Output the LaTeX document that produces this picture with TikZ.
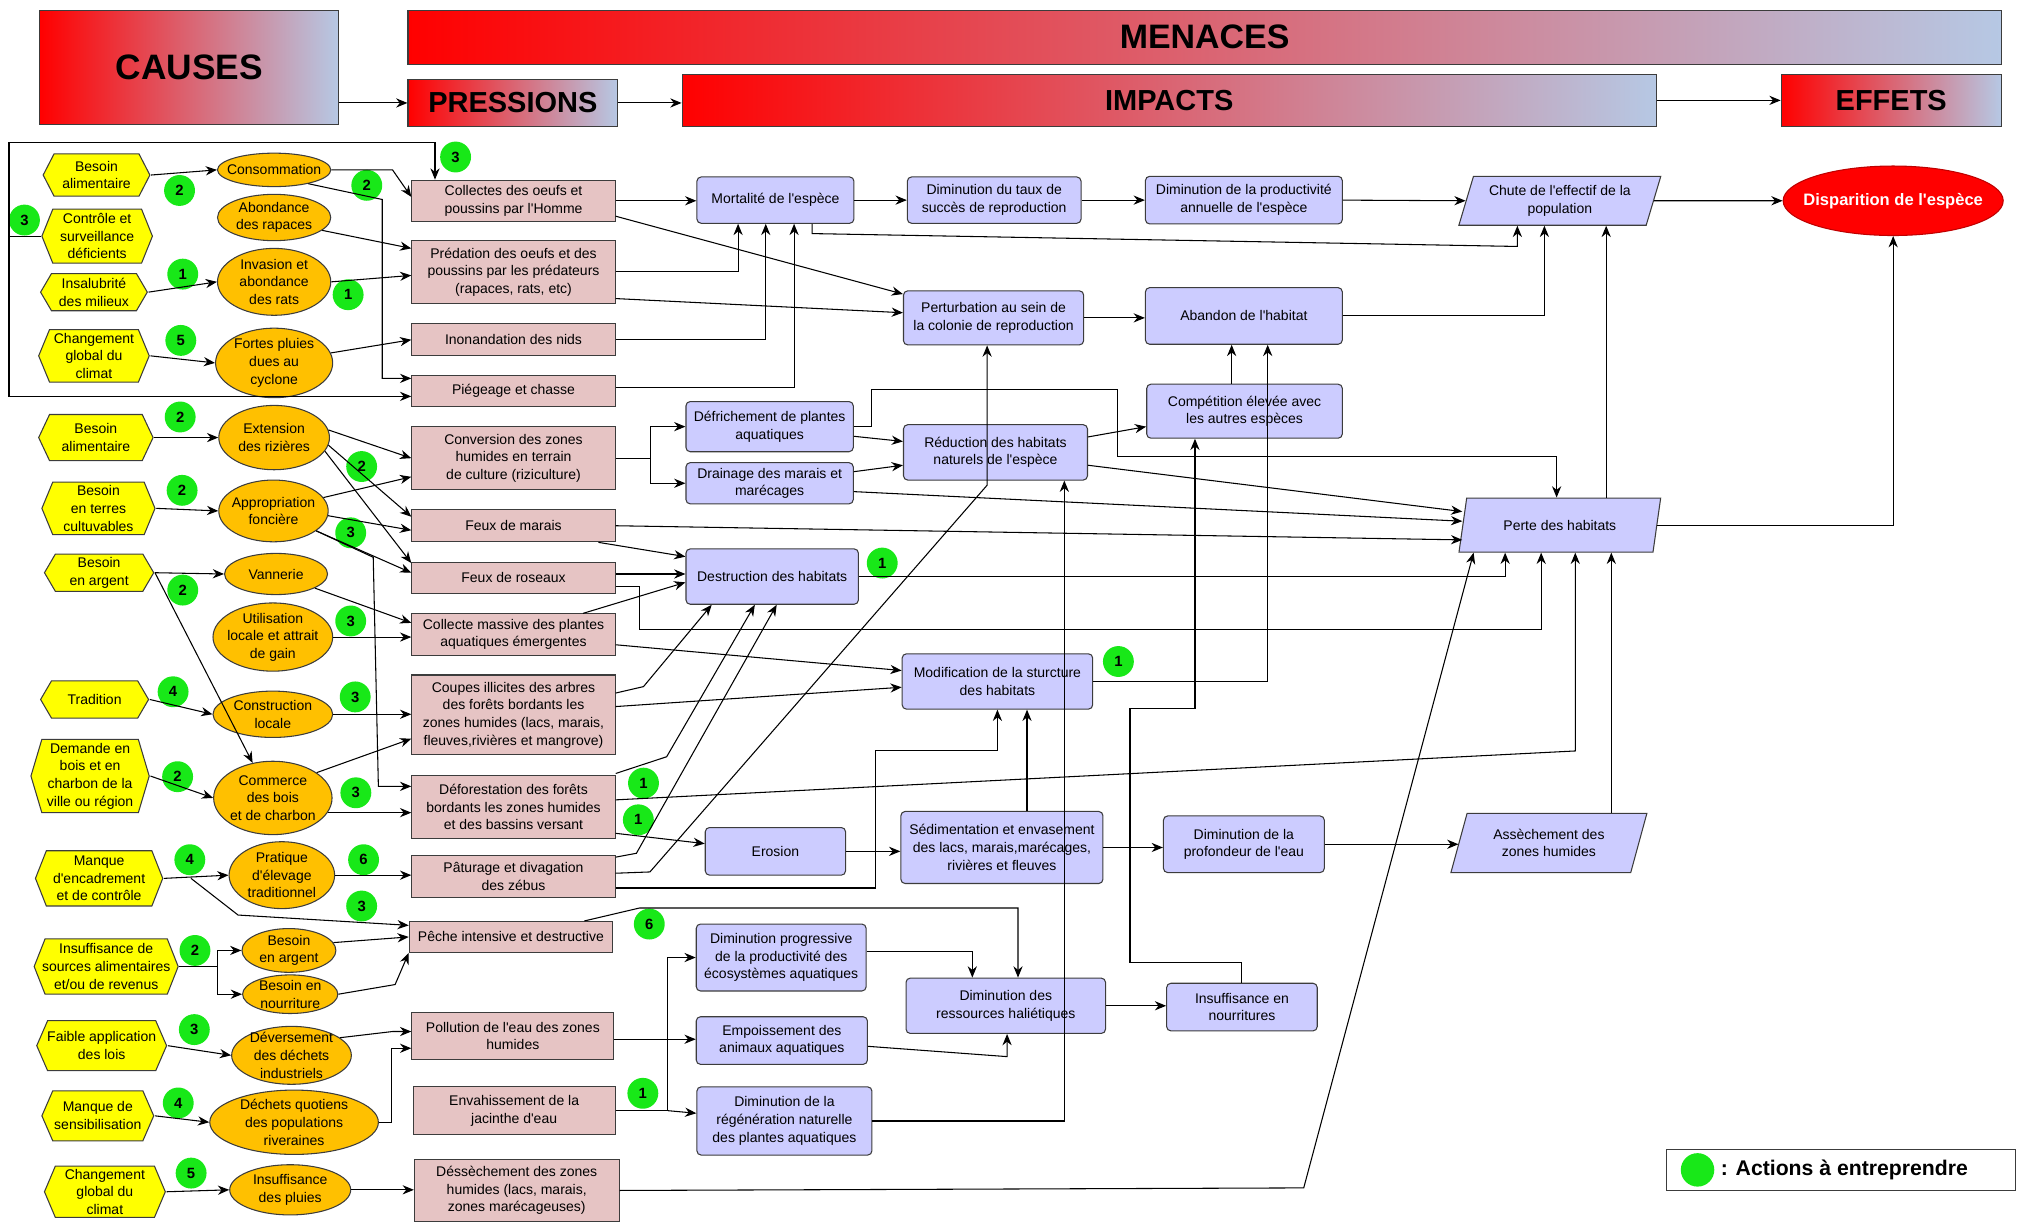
\documentclass[tikz,border=0pt]{standalone}
\usepackage{fontspec}
\setmainfont{Liberation Sans}[Ligatures=TeXOff]
\usetikzlibrary{shapes.geometric, arrows.meta}

\newlength\pxu
\setlength\pxu{0.032cm}
\definecolor{hexyellow}{RGB}{255,255,0}
\definecolor{ellorange}{RGB}{255,192,0}
\definecolor{prespink}{RGB}{230,196,196}
\definecolor{impblue}{RGB}{204,204,255}
\definecolor{actgreen}{RGB}{24,232,24}
\definecolor{headblue}{RGB}{182,200,228}
\definecolor{edge}{RGB}{60,60,60}

\begin{document}
\begin{tikzpicture}
        [x=0.032cm, y=-0.032cm,
         every node/.style={font=\fontsize{9.9}{12.5}\selectfont, align=center},
         every path/.style={line width=0.75pt},
         >={Stealth[length=8pt, width=6.5pt]},
         head/.style={draw=edge, left color=red, right color=headblue, font=\bfseries\fontsize{20.5}{24}\selectfont},
         cause/.style={rectangle, inner sep=0pt, path picture={
            \filldraw[draw=edge, fill=hexyellow] ([xshift=0.5pt]path picture bounding box.west)
              -- ([xshift=9\pxu, yshift=-0.5pt]path picture bounding box.north west)
              -- ([xshift=-9\pxu, yshift=-0.5pt]path picture bounding box.north east)
              -- ([xshift=-0.5pt]path picture bounding box.east)
              -- ([xshift=-9\pxu, yshift=0.5pt]path picture bounding box.south east)
              -- ([xshift=9\pxu, yshift=0.5pt]path picture bounding box.south west) -- cycle;}},
         sub/.style={ellipse, draw=edge, fill=ellorange, inner sep=0pt},
         press/.style={rectangle, draw=edge, fill=prespink, inner sep=1pt},
         imp/.style={rectangle, rounded corners=3pt, draw=edge, fill=impblue, inner sep=1pt},
         para/.style={trapezium, trapezium left angle=70, trapezium right angle=110, trapezium stretches=true, draw=edge, fill=impblue, inner sep=1pt},
         act/.style={circle, fill=actgreen, inner sep=0pt, minimum size=24\pxu, font=\bfseries\fontsize{10.5}{12}\selectfont}]

        \useasboundingbox (0,0) rectangle (1568,950);

        % headers
        \node[head, minimum width=232\pxu, minimum height=89\pxu, font=\bfseries\fontsize{25}{28}\selectfont] (hc) at (147, 52.5) {CAUSES};
        \node[head, minimum width=1238\pxu, minimum height=42\pxu, font=\bfseries\fontsize{24}{28}\selectfont] (hm) at (936, 29) {MENACES};
        \node[head, minimum width=163\pxu, minimum height=36\pxu] (hp) at (398.5, 80) {PRESSIONS};
        \node[head, minimum width=757\pxu, minimum height=40\pxu] (hi) at (908.5, 78) {IMPACTS};
        \node[head, minimum width=171\pxu, minimum height=40\pxu] (he) at (1469.5, 78) {EFFETS};

        % causes
        \node[cause, minimum width=84\pxu, minimum height=34\pxu] (c1) at (75, 136) {Besoin\\alimentaire};
        \node[cause, minimum width=87\pxu, minimum height=43\pxu] (c2) at (75.5, 183.5) {Contrôle et\\surveillance\\déficients};
        \node[cause, minimum width=84\pxu, minimum height=30\pxu] (c3) at (73, 227) {Insalubrité\\des milieux};
        \node[cause, minimum width=87\pxu, minimum height=42\pxu] (c4) at (73, 276.5) {Changement\\global du\\climat};
        \node[cause, minimum width=90\pxu, minimum height=37\pxu] (c5) at (74.5, 340) {Besoin\\alimentaire};
        \node[cause, minimum width=89\pxu, minimum height=42\pxu] (c6) at (76.5, 395) {Besoin\\en terres\\cultuvables};
        \node[cause, minimum width=86\pxu, minimum height=30\pxu] (c7) at (77, 445) {Besoin\\en argent};
        \node[cause, minimum width=85\pxu, minimum height=30\pxu] (c8) at (73.5, 543.5) {Tradition};
        \node[cause, minimum width=93\pxu, minimum height=58\pxu] (c9) at (70, 603) {Demande en\\bois et en\\charbon de la\\ville ou région};
        \node[cause, minimum width=100\pxu, minimum height=44\pxu] (c10) at (77, 682.5) {Manque\\d'encadrement\\et de contrôle};
        \node[cause, minimum width=113\pxu, minimum height=44\pxu] (c11) at (82.5, 751) {Insuffisance de\\sources alimentaires\\et/ou de revenus};
        \node[cause, minimum width=102\pxu, minimum height=40\pxu] (c12) at (79, 812.5) {Faible application\\des lois};
        \node[cause, minimum width=88\pxu, minimum height=40\pxu] (c13) at (76, 867) {Manque de\\sensibilisation};
        \node[cause, minimum width=95\pxu, minimum height=41\pxu] (c14) at (81.5, 926) {Changement\\global du\\climat};

        % sous-causes
        \node[sub, minimum width=88\pxu, minimum height=26\pxu, label=center:{Consommation}] (s1) at (213, 132) {};
        \node[sub, minimum width=88\pxu, minimum height=36\pxu, label=center:{Abondance\\des rapaces}] (s2) at (213, 169) {};
        \node[sub, minimum width=88\pxu, minimum height=52\pxu, label=center:{Invasion et\\abondance\\des rats}] (s3) at (213, 219) {};
        \node[sub, minimum width=91\pxu, minimum height=54\pxu, label=center:{Fortes pluies\\dues au\\cyclone}] (s4) at (213, 282) {};
        \node[sub, minimum width=86\pxu, minimum height=50\pxu, label=center:{Extension\\des rizières}] (s5) at (213, 340) {};
        \node[sub, minimum width=85\pxu, minimum height=48\pxu, label=center:{Appropriation\\foncière}] (s6) at (212.5, 397) {};
        \node[sub, minimum width=80\pxu, minimum height=32\pxu, label=center:{Vannerie}] (s7) at (214.5, 446) {};
        \node[sub, minimum width=93\pxu, minimum height=53\pxu, label=center:{Utilisation\\locale et attrait\\de gain}] (s8) at (212, 495) {};
        \node[sub, minimum width=93\pxu, minimum height=36\pxu, label=center:{Construction\\locale}] (s9) at (212, 555) {};
        \node[sub, minimum width=92\pxu, minimum height=57\pxu, label=center:{Commerce\\des bois\\et de charbon}] (s10) at (212, 620) {};
        \node[sub, minimum width=82\pxu, minimum height=52\pxu, label=center:{Pratique\\d'élevage\\traditionnel}] (s11) at (219, 680) {};
        \node[sub, minimum width=73\pxu, minimum height=34\pxu, label=center:{Besoin\\en argent}] (s12) at (224.5, 738.5) {};
        \node[sub, minimum width=74\pxu, minimum height=30\pxu, label=center:{Besoin en\\nourriture}] (s13) at (225.5, 772.5) {};
        \node[sub, minimum width=93\pxu, minimum height=45\pxu, label=center:{Déversement\\des déchets\\industriels}] (s14) at (226.5, 820) {};
        \node[sub, minimum width=131\pxu, minimum height=50\pxu, label=center:{Déchets quotiens\\des populations\\riveraines}] (s15) at (228.5, 872) {};
        \node[sub, minimum width=94\pxu, minimum height=39\pxu, label=center:{Insuffisance\\des pluies}] (s16) at (225.5, 924.5) {};

        % pressions
        \node[press, minimum width=158\pxu, minimum height=32\pxu] (p1) at (399, 156) {Collectes des oeufs et\\poussins par l'Homme};
        \node[press, minimum width=158\pxu, minimum height=49\pxu] (p2) at (399, 211.5) {Prédation des oeufs et des\\poussins par les prédateurs\\(rapaces, rats, etc)};
        \node[press, minimum width=158\pxu, minimum height=25\pxu] (p3) at (399, 263.5) {Inonandation des nids};
        \node[press, minimum width=158\pxu, minimum height=24\pxu] (p4) at (399, 304) {Piégeage et chasse};
        \node[press, minimum width=158\pxu, minimum height=49\pxu] (p5) at (399, 356) {Conversion des zones\\humides en terrain\\de culture (riziculture)};
        \node[press, minimum width=158\pxu, minimum height=25\pxu] (p6) at (399, 408.5) {Feux de marais};
        \node[press, minimum width=158\pxu, minimum height=24\pxu] (p7) at (399, 449) {Feux de roseaux};
        \node[press, minimum width=158\pxu, minimum height=32\pxu] (p8) at (399, 493) {Collecte massive des plantes\\aquatiques émergentes};
        \node[press, minimum width=158\pxu, minimum height=62\pxu] (p9) at (399, 555.5) {Coupes illicites des arbres\\des forêts bordants les\\zones humides (lacs, marais,\\fleuves,rivières et mangrove)};
        \node[press, minimum width=158\pxu, minimum height=49\pxu] (p10) at (399, 627) {Déforestation des forêts\\bordants les zones humides\\et des bassins versant};
        \node[press, minimum width=158\pxu, minimum height=33\pxu] (p11) at (399, 681) {Pâturage et divagation\\des zébus};
        \node[press, minimum width=158\pxu, minimum height=24\pxu] (p12) at (397, 728) {Pêche intensive et destructive};
        \node[press, minimum width=157\pxu, minimum height=37\pxu] (p13) at (398.5, 805) {Pollution de l'eau des zones\\humides};
        \node[press, minimum width=157\pxu, minimum height=37\pxu] (p14) at (399.5, 863) {Envahissement de la\\jacinthe d'eau};
        \node[press, minimum width=159\pxu, minimum height=48\pxu] (p15) at (401.5, 925) {Déssèchement des zones\\humides (lacs, marais,\\zones marécageuses)};

        % impacts
        \node[imp, minimum width=122\pxu, minimum height=36\pxu] (i1) at (602.5, 155.5) {Mortalité de l'espèce};
        \node[imp, minimum width=135\pxu, minimum height=36\pxu] (i2) at (772.5, 155.5) {Diminution du taux de\\succès de reproduction};
        \node[imp, minimum width=153\pxu, minimum height=37\pxu] (i3) at (966.5, 155.5) {Diminution de la productivité\\annuelle de l'espèce};
        \node[para, minimum width=157\pxu, minimum height=38\pxu] (i4) at (1212, 156) {Chute de l'effectif de la\\population};
        \node[ellipse, fill=red, draw=red!75!black, minimum width=171\pxu, minimum height=54\pxu, inner sep=0pt,
              label={[text=white, font=\bfseries\fontsize{11.7}{13}\selectfont]center:Disparition de l'espèce}] (e1) at (1471, 156) {};
        \node[imp, minimum width=140\pxu, minimum height=42\pxu] (i5) at (772, 247) {Perturbation au sein de\\la colonie de reproduction};
        \node[imp, minimum width=153\pxu, minimum height=44\pxu] (i6) at (966.5, 245.5) {Abandon de l'habitat};
        \node[imp, minimum width=152\pxu, minimum height=42\pxu] (i7) at (967, 319.5) {Compétition élevée avec\\les autres espèces};
        \node[imp, minimum width=130\pxu, minimum height=39\pxu] (i8) at (598, 331.5) {Défrichement de plantes\\aquatiques};
        \node[imp, minimum width=130\pxu, minimum height=32\pxu] (i9) at (598, 375.5) {Drainage des marais et\\marécages};
        \node[imp, minimum width=143\pxu, minimum height=43\pxu] (i10) at (773.5, 351.5) {Réduction des habitats\\naturels de l'espèce};
        \node[para, minimum width=158\pxu, minimum height=42\pxu] (i11) at (1212, 408) {Perte des habitats};
        \node[imp, minimum width=134\pxu, minimum height=43\pxu] (i12) at (600, 448) {Destruction des habitats};
        \node[imp, minimum width=148\pxu, minimum height=43\pxu] (i13) at (775, 529.5) {Modification de la sturcture\\des habitats};
        \node[imp, minimum width=109\pxu, minimum height=37\pxu] (i14) at (602.5, 661.5) {Erosion};
        \node[imp, minimum width=157\pxu, minimum height=56\pxu] (i15) at (778.5, 658.5) {Sédimentation et envasement\\des lacs, marais,marécages,\\rivières et fleuves};
        \node[imp, minimum width=125\pxu, minimum height=44\pxu] (i16) at (966.5, 656) {Diminution de la\\profondeur de l'eau};
        \node[para, minimum width=153\pxu, minimum height=46\pxu] (i17) at (1203.5, 655) {Assèchement des\\zones humides};
        \node[imp, minimum width=132\pxu, minimum height=52\pxu] (i18) at (607, 744) {Diminution progressive\\de la productivité des\\écosystèmes aquatiques};
        \node[imp, minimum width=133\pxu, minimum height=37\pxu] (i19) at (607.5, 808.5) {Empoissement des\\animaux aquatiques};
        \node[imp, minimum width=136\pxu, minimum height=53\pxu] (i20) at (609.5, 871) {Diminution de la\\régénération naturelle\\des plantes aquatiques};
        \node[imp, minimum width=155\pxu, minimum height=43\pxu] (i21) at (781.5, 781.5) {Diminution des\\ressources haliétiques};
        \node[imp, minimum width=117\pxu, minimum height=37\pxu] (i22) at (965, 782.5) {Insuffisance en\\nourritures};

        % actions
        \node[act] (g1) at (354, 122) {3};
        \node[act] (g2) at (139.5, 148) {2};
        \node[act] (g3) at (285, 144) {2};
        \node[act] (g4) at (19, 171) {3};
        \node[act] (g5) at (142, 213) {1};
        \node[act] (g6) at (270.5, 229) {1};
        \node[act] (g7) at (140.5, 264.5) {5};
        \node[act] (g8) at (140, 324) {2};
        \node[act] (g9) at (281, 362.5) {2};
        \node[act] (g10) at (141.5, 381) {2};
        \node[act] (g11) at (272.5, 414) {3};
        \node[act] (g12) at (142, 458.5) {2};
        \node[act] (g13) at (272.5, 482.5) {3};
        \node[act] (g14) at (134.5, 537.5) {4};
        \node[act] (g15) at (276, 541.5) {3};
        \node[act] (g16) at (138, 603.5) {2};
        \node[act] (g17) at (276.5, 616) {3};
        \node[act] (g18) at (500, 608.5) {1};
        \node[act] (g19) at (496, 637) {1};
        \node[act] (g20) at (685.5, 437.5) {1};
        \node[act] (g21) at (869, 514) {1};
        \node[act] (g22) at (147.5, 668) {4};
        \node[act] (g23) at (282.5, 668) {6};
        \node[act] (g24) at (281, 704) {3};
        \node[act] (g25) at (504.5, 718) {6};
        \node[act] (g26) at (151.5, 738.5) {2};
        \node[act] (g27) at (151, 800) {3};
        \node[act] (g28) at (138.5, 857) {4};
        \node[act] (g29) at (499.5, 849.5) {1};
        \node[act] (g30) at (148.5, 911.5) {5};

        % legend
        \node[draw=edge, minimum width=271\pxu, minimum height=32\pxu] (leg) at (1430.5, 909) {};
        \node[act, minimum size=26\pxu] (g0) at (1319, 909) {};
        \node[anchor=west, font=\bfseries\fontsize{15}{17}\selectfont] (legtxt) at (1333, 909) {: Actions à entreprendre};

        \draw[->] (hc.east |- hp.west) -- (hp.west);
        \draw[->] (hp.east) -- (hi.west |- hp.east);
        \draw[->] (hi.east) -- (he.west);

        \draw[->] (c2.west) -| (7,111) -| (p1.north -| 338,0);
        \draw[->] (c2.west) -| (7,308) -- (p4.west |- 0,308);
        \draw[->] (c1.east) -- (s1.west);
        \draw[->] (c3.east) -- (s3.west);
        \draw[->] (c4.east) -- (s4.west);
        \draw[->] (c5.east) -- (s5.west);
        \draw[->] (c6.east) -- (s6.west);
        \draw[->] (c7.east) -- (s7.west);
        \draw[->] (c7.east) -- (s10.120);
        \draw[->] (c8.east) -- (s9.west);
        \draw[->] (c9.east) -- (s10.west);
        \draw[->] (c10.east) -- (s11.west);
        \draw[->] (c10.east) ++(21,0) -- (185,711) -- (p12.west |- 0,719);
        \draw[->] (c11.east) -- (169,751) |- (s12.west);
        \draw[->] (c11.east) -- (169,751) |- (s13.west);
        \draw[->] (c12.east) -- (s14.west);
        \draw[->] (c13.east) -- (s15.west);
        \draw[->] (c14.east) -- (s16.west);

        \draw[->] (s1.east) -- (305,132) -- (p1.west |- 0,153);
        \draw[->] (s1.-22) -- (297,155) |- (p4.west |- 0,294);
        \draw[->] (s2.-15) -- (p2.west |- 0,193);
        \draw[->] (s3.east) -- (p2.west |- 0,214);
        \draw[->] (s4.10) -- (p3.west |- 0,264);
        \draw[->] (s5.8) -- (p5.west |- 0,356);
        \draw[->] (s5.-8) -- (p6.west |- 0,401.5);
        \draw[->] (s5.-15) -- (p7.west |- 0,437.5);
        \draw[->] (s6.15) -- (p5.west |- 0,370.5);
        \draw[->] (s6.-5) -- (p6.west |- 0,412);
        \draw[->] (s6.-25) -- (p7.west |- 0,445);
        \draw[->] (s6.-25) -- (290,433) -- (294,611) -- (p10.west |- 0,611);
        \draw[->] (s7.-20) -- (p8.west |- 0,484);
        \draw[->] (s8.east) -- (p8.west |- s8.east);
        \draw[->] (s9.east) -- (p9.west |- s9.east);
        \draw[->] (s10.30) -- (p9.west |- 0,574);
        \draw[->] (s10.-15) -- (p10.west |- s10.-15);
        \draw[->] (s11.east) -- (p11.west |- s11.east);
        \draw[->] (s12.10) -- (p12.west);
        \draw[->] (s13.east) -- (307,765) -- (p12.south west);
        \draw[->] (s14.20) -- (305,801.5) -- (p13.west |- 0,801.5);
        \draw[->] (s15.east) -- (304.5,872) |- (p13.west |- 0,814.5);
        \draw[->] (s16.east) -- (p15.west |- s16.east);

        \draw[->] (p1.east) -- (i1.west |- p1.east);
        \draw[->] (p1.east |- 0,168) -- (i5.west |- 0,228.5);
        \draw[->] (p2.east |- 0,211) -| (i1.south -| 573.5,0);
        \draw[->] (p2.east |- 0,232) -- (i5.west |- 0,243);
        \draw[->] (p3.east) -| (i1.south -| 595,0);
        \draw[->] (p4.east |- 0,301) -| (i1.south -| 617,0);
        \draw[->] (p5.east) -- (505.5,356) |- (i8.west);
        \draw[->] (505.5,356) |- (i9.west);
        \draw[->] (p6.south -| 465,0) -- (i12.west |- 0,432.5);
        \draw[->] (p6.east) -- (i11.west |- 0,419.5);
        \draw[->] (p7.east |- 0,446) -- (i12.west |- 0,446);
        \draw[->] (p7.east |- 0,456) -- (497,456) -- (497,489) -| (i11.south -| 1197.5,0);
        \draw[->] (p8.north -| 453,0) -- (i12.west |- 0,452.5);
        \draw[->] (p8.east |- 0,501) -- (i13.west |- 0,521);
        \draw[->] (p9.east |- 0,538.5) -- (500,533.5) -- (i12.south -| 553,0);
        \draw[->] (p9.east |- 0,549) -- (i13.west |- 0,534);
        \draw[->] (p10.east |- 0,601) -- (518,588) -- (i12.south -| 586.5,0);
        \draw[->] (p10.east |- 0,621.5) -- (1224,583.5) -- (i11.south -| 1224,0);
        \draw[->] (p10.east |- 0,647.5) -- (i14.west |- 0,655.5);
        \draw[->] (p11.east |- 0,666) -- (494.5,663) -- (i12.south -| 603.5,0);
        \draw[->] (p11.east |- 0,678.5) -- (505,677.5) -- (767,377) -- (i5.south -| 767,0);
        \draw[->] (p11.east |- 0,690) -| (680,583) -| (i13.south -| 775,0);
        \draw[->] (p12.north -| 454,0) -- (497,705.5) -| (i21.north -| 791,0);
        \draw[->] (p13.east |- 0,807.5) -- (i19.west |- 0,807.5);
        \draw[->] (p14.east) -- (519,863) |- (i18.west);
        \draw[->] (519,863) -- (i20.west |- 0,865);
        \draw[->] (p15.east) -- (1013,923) -- (i11.south -| 1145,0);

        \draw[->] (i1.east) -- (i2.west);
        \draw[->] (i2.east) -- (i3.west);
        \draw[->] (i3.east) -- (i4.west);
        \draw[->] (i4.east) -- (e1.west);
        \draw[->] (i1.south -| 631,0) -- (631,181.5) -- (1179,191.5) -- (i4.south -| 1179,0);
        \draw[->] (i5.east) -- (i6.west |- i5.east);
        \draw[->] (i6.east) -| (i4.south -| 1200,0);
        \draw[->] (i7.north -| 957,0) -- (i6.south -| 957,0);
        \draw[->] (i8.east) -- (677.5,331.5) |- (868.5,303) |- (1209.5,355) -- (i11.north -| 1209.5,0);
        \draw[->] (i8.east |- 0,339) -- (i10.west |- 0,343);
        \draw[->] (i9.east |- 0,366.5) -- (i10.west |- 0,361.5);
        \draw[->] (i9.east |- 0,382) -- (i11.west |- 0,405);
        \draw[->] (i10.east |- 0,339.5) -- (i7.west |- 0,331.5);
        \draw[->] (i10.east |- 0,361.5) -- (i11.west |- 0,397.5);
        \draw[->] (i12.east) -| (i11.south -| 1169.5,0);
        \draw[->] (i13.east) -| (i6.south -| 985,0);
        \draw[->] (i14.east) -- (i15.west |- i14.east);
        \draw[->] (i15.north -| 798,0) -- (i13.south -| 798,0);
        \draw[->] (i15.east) -- (i16.west |- i15.east);
        \draw[->] (i16.east) -- (i17.west |- i16.east);
        \draw[->] (i17.north -| 1252,0) -- (i11.south -| 1252,0);
        \draw[->] (i11.north -| 1248,0) -- (i4.south -| 1248,0);
        \draw[->] (i11.east) -| (e1.south);
        \draw[->] (i18.east |- 0,739.5) -| (i21.north -| 755.5,0);
        \draw[->] (i19.east |- 0,813) -- (782.5,821) -- (i21.south -| 782.5,0);
        \draw[->] (i20.east) -| (i10.south -| 827,0);
        \draw[->] (i21.east) -- (i22.west |- i21.east);
        \draw[->] (i22.north) |- (878,748) |- (928.5,550.5) -- (i7.south -| 928.5,0);

      \end{tikzpicture}
\end{document}
